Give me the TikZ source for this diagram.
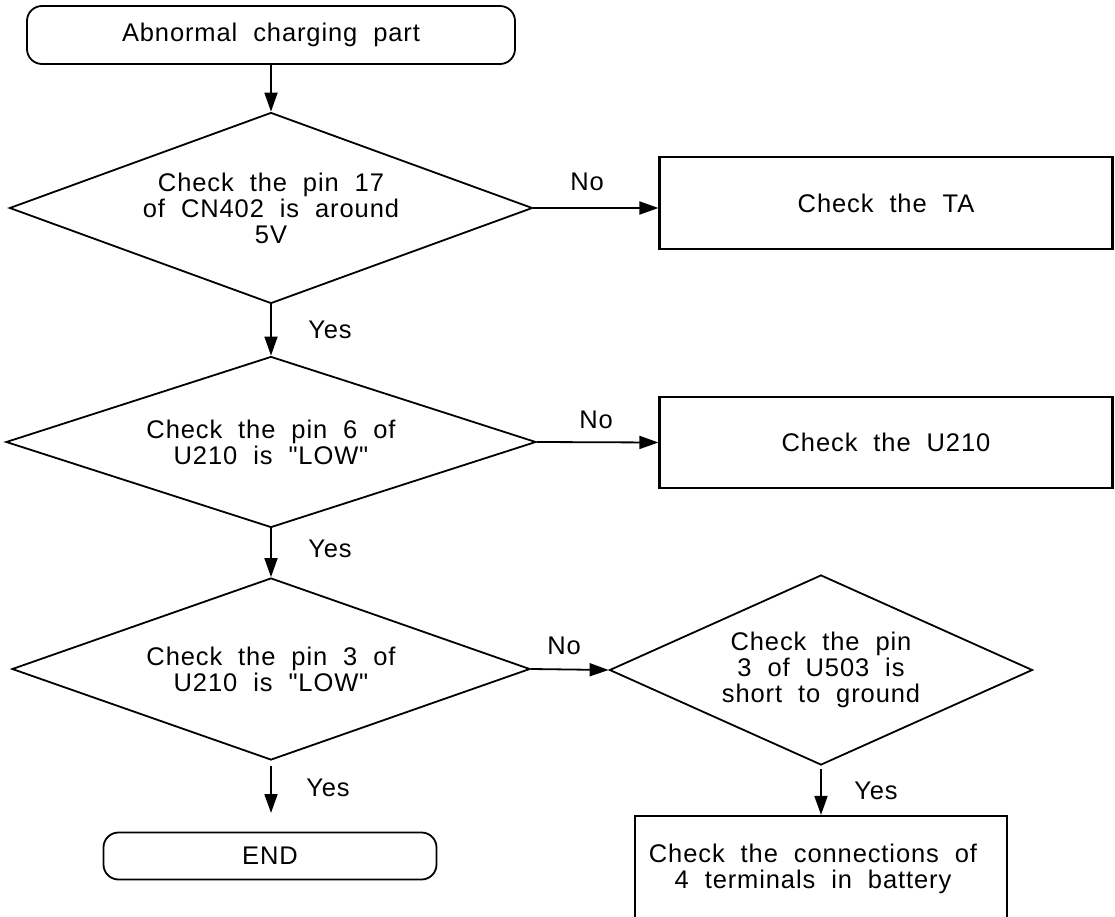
\documentclass[tikz,border=0pt]{standalone}
\usepackage{fontspec}
\newfontfamily\labfont{Liberation Sans}[LetterSpace=3.5, WordSpace=2]
\usetikzlibrary{shapes.geometric,arrows.meta}
\begin{document}
\begin{tikzpicture}[x=1pt,y=-1pt,
  lbl/.style={font=\labfont\fontsize{25.5}{26}\selectfont, align=center, inner sep=0pt},
  term/.style={draw, line width=1.8pt, rounded corners=15pt, lbl},
  dec/.style={diamond, draw, line width=1.8pt, inner sep=0pt, aspect=2.7, lbl},
  proc/.style={draw, line width=2.2pt, lbl},
  arr/.style={line width=1.8pt, -{Triangle[length=19pt,width=13pt]}},
  ]
\useasboundingbox (0,0) rectangle (1115,917);
\clip (0,0) rectangle (1115,917);
\node[term, minimum width=488pt, minimum height=58pt] (start) at (271,35) {Abnormal charging part};
\node[dec, minimum width=523pt, minimum height=191pt] (d1) at (271,208) {Check the pin 17\\of CN402 is around\\5V};
\node[proc, minimum width=453pt, minimum height=92pt] (ta) at (886,203) {Check the TA};
\node[dec, minimum width=530pt, minimum height=171pt] (d2) at (271,442) {Check the pin 6 of\\U210 is "LOW"};
\node[proc, minimum width=453pt, minimum height=91pt] (u210) at (886,442.5) {Check the U210};
\node[dec, minimum width=518pt, minimum height=182pt] (d3) at (271,669) {Check the pin 3 of\\U210 is "LOW"};
\node[dec, minimum width=423pt, minimum height=190pt] (d4) at (821,670) {Check the pin\\3 of U503 is\\short to ground};
\node[proc, minimum width=372pt, minimum height=120pt] (batt) at (821,876) {};
\node[lbl] (batttext) at (813,869) {Check the connections of\\4 terminals in battery};
\node[term, minimum width=333pt, minimum height=47pt] (end) at (270,856) {END};
\coordinate (yend) at (271,813);

\draw[arr] (start.south) -- (d1.north);
\draw[arr] (d1.south) -- (d2.north);
\draw[arr] (d2.south) -- (d3.north);
\draw[arr, shorten <=5pt] (d3.south) -- (yend);
\draw[arr] (d1.east) -- (d1.east -| ta.west);
\draw[arr] (d2.east) -- (u210.west);
\draw[arr] (d3.east) -- (d4.west);
\draw[arr, shorten <=3pt] (d4.south) -- (batt.north);

\node[lbl] (no1) at (587,182) {No};
\node[lbl] (no2) at (596,420) {No};
\node[lbl] (no3) at (564,646) {No};
\node[lbl] (yes1) at (330,330) {Yes};
\node[lbl] (yes2) at (330,549) {Yes};
\node[lbl] (yes3) at (328,788) {Yes};
\node[lbl] (yes4) at (876,791) {Yes};
\end{tikzpicture}
\end{document}
